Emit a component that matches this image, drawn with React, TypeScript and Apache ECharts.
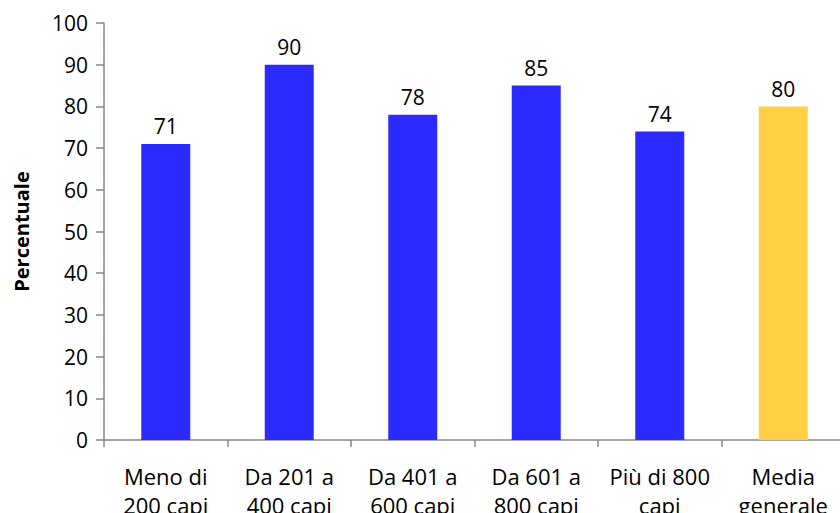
import React, { useEffect, useRef } from "react";
import * as echarts from "echarts";

const categories = [
  "Meno di\n200 capi",
  "Da 201 a\n400 capi",
  "Da 401 a\n600 capi",
  "Da 601 a\n800 capi",
  "Più di 800\ncapi",
  "Media\ngenerale",
];
const values = [71, 90, 78, 85, 74, 80];
const barColors = ["#2b2bff", "#2b2bff", "#2b2bff", "#2b2bff", "#2b2bff", "#ffd043"];
const yTicks = { min: 0, max: 100, interval: 10 };

const FONT = "'Open Sans', 'Liberation Sans', sans-serif";
const AXIS_GREY = "#878787";

export default function App() {
  const ref = useRef<HTMLDivElement>(null);

  useEffect(() => {
    document.body.style.margin = "0";
    if (!ref.current) return;
    const chart = echarts.init(ref.current, null, { renderer: "svg" });
    chart.setOption({
      animation: false,
      backgroundColor: "#ffffff",
      grid: {
        left: 104,
        top: 23,
        width: 741,
        height: 417,
        containLabel: false,
        outerBoundsMode: "none",
      },
      xAxis: {
        type: "category",
        data: categories,
        axisLine: { show: true, lineStyle: { color: AXIS_GREY, width: 1.5 } },
        axisTick: { show: true, length: 7, lineStyle: { color: AXIS_GREY, width: 1.5 } },
        axisLabel: {
          interval: 0,
          margin: 21,
          color: "#000",
          fontFamily: FONT,
          fontSize: 22,
          lineHeight: 29,
        },
      },
      yAxis: {
        type: "value",
        min: yTicks.min,
        max: yTicks.max,
        interval: yTicks.interval,
        name: "Percentuale",
        nameLocation: "middle",
        nameGap: 73,
        nameTextStyle: {
          color: "#000",
          fontFamily: FONT,
          fontWeight: "bold",
          fontSize: 20,
        },
        axisLine: { show: true, lineStyle: { color: AXIS_GREY, width: 1.5 } },
        axisTick: { show: true, length: 8, lineStyle: { color: AXIS_GREY, width: 1.5 } },
        splitLine: { show: false },
        axisLabel: {
          margin: 16,
          color: "#000",
          fontFamily: FONT,
          fontSize: 21,
        },
      },
      series: [
        {
          type: "bar",
          barWidth: 49,
          data: values.map((v, i) => ({ value: v, itemStyle: { color: barColors[i] } })),
          label: {
            show: true,
            position: "top",
            distance: 7,
            color: "#000",
            fontFamily: FONT,
            fontSize: 21,
          },
        },
      ],
    });
    return () => chart.dispose();
  }, []);

  return <div ref={ref} style={{ width: 840, height: 513 }} />;
}
